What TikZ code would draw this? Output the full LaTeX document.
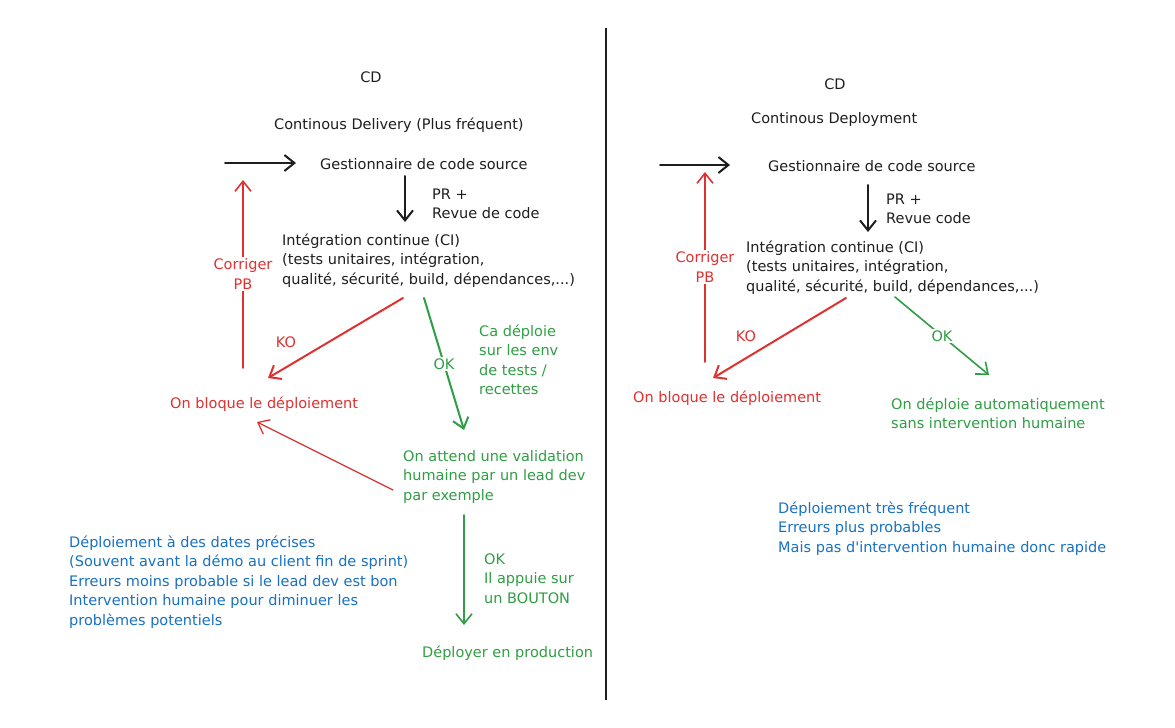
\documentclass[tikz,border=0pt]{standalone}
\usepackage{fontspec}
\setmainfont{DejaVu Sans}[Ligatures=TeXOff]
\usetikzlibrary{arrows.meta}
\definecolor{ink}{HTML}{1E1E1E}
\definecolor{koRed}{HTML}{E03131}
\definecolor{okGreen}{HTML}{2F9E44}
\definecolor{noteBlue}{HTML}{1971C2}
\begin{document}
\begin{tikzpicture}[x=1pt, y=-1pt,
  txt/.style={anchor=base west, align=left, inner sep=0pt, text=ink, font=\fontsize{14.5}{19.5}\selectfont},
  ttl/.style={txt, anchor=base},
  lbl/.style={fill=white, inner sep=2pt, align=center, font=\fontsize{14.5}{19.5}\selectfont},
  flow/.style={-{Straight Barb[length=10pt,width=16pt]}, line width=1.8pt, line cap=round},
  blk/.style={flow, draw=ink, line width=2pt},
  bad/.style={flow, draw=koRed, line width=1.6pt},
  good/.style={flow, draw=okGreen, line width=1.6pt}]
\useasboundingbox[fill=white] (0,0) rectangle (1175,728);
\draw[ink, line width=1.8pt] (606,28) -- (606,700);
% Continous Delivery
\node[ttl] (cdL) at (371,82) {CD};
\node[txt] (titleL) at (274,129) {Continous Delivery (Plus fréquent)};
\node[txt] (scmL) at (320,169) {Gestionnaire de code source};
\node[txt] (prL) at (432,218.5) {PR +\\Revue de code};
\node[txt] (ciL) at (282,284) {Intégration continue (CI)\\(tests unitaires, intégration,\\qualité, sécurité, build, dépendances,...)};
\node[txt, text=okGreen] (testsL) at (479,394.5) {Ca déploie\\sur les env\\de tests /\\recettes};
\node[txt, text=koRed] (bloqueL) at (170,408) {On bloque le déploiement};
\node[txt, text=okGreen] (attendL) at (403,500) {On attend une validation\\humaine par un lead dev\\par exemple};
\node[txt, text=okGreen] (boutonL) at (484,603) {OK\\Il appuie sur\\un BOUTON};
\node[txt, text=okGreen] (prodL) at (422,657) {Déployer en production};
\node[txt, text=noteBlue] (noteL) at (69,625) {Déploiement à des dates précises\\(Souvent avant la démo au client fin de sprint)\\Erreurs moins probable si le lead dev est bon\\Intervention humaine pour diminuer les\\problèmes potentiels};
\node[lbl, text=koRed] (koL) at (286,342) {KO};
\draw[blk] ([xshift=-95pt,yshift=6pt]scmL.base west) -- ([xshift=-24pt,yshift=6pt]scmL.base west);
\draw[blk] ([xshift=85pt,yshift=-7pt]scmL.base west) -- ([xshift=123pt,yshift=62pt]ciL.base west);
\draw[bad, line width=2pt] ([xshift=121pt,yshift=-14pt]ciL.base west) -- ([xshift=98pt,yshift=30pt]bloqueL.base west);
\draw[good, line width=2pt] ([xshift=142pt,yshift=-14pt]ciL.base west) -- node[lbl, text=okGreen] {OK} ([xshift=61pt,yshift=70pt]attendL.base west);
\draw[bad] ([xshift=73pt,yshift=40pt]bloqueL.base west) -- node[lbl, text=koRed] {Corriger\\PB} ([xshift=-77pt,yshift=-11pt]scmL.base west);
\draw[bad, line width=1.3pt] ([xshift=-10pt,yshift=10pt]attendL.base west) -- ([xshift=87pt,yshift=-14pt]bloqueL.base west);
\draw[good] ([xshift=61pt,yshift=-15pt]attendL.base west) -- ([xshift=42pt,yshift=32pt]prodL.base west);
% Continous Deployment
\node[ttl] (cdR) at (835,89) {CD};
\node[txt] (titleR) at (751,123) {Continous Deployment};
\node[txt] (scmR) at (768,171) {Gestionnaire de code source};
\node[txt] (prR) at (886,223.5) {PR +\\Revue code};
\node[txt] (ciR) at (746,291) {Intégration continue (CI)\\(tests unitaires, intégration,\\qualité, sécurité, build, dépendances,...)};
\node[txt, text=koRed] (bloqueR) at (633,402) {On bloque le déploiement};
\node[txt, text=okGreen] (autoR) at (891,428.5) {On déploie automatiquement\\sans intervention humaine};
\node[txt, text=noteBlue] (noteR) at (778,552) {Déploiement très fréquent\\Erreurs plus probables\\Mais pas d'intervention humaine donc rapide};
\node[lbl, text=koRed] (koR) at (746,336) {KO};
\draw[blk] ([xshift=-108pt,yshift=6pt]scmR.base west) -- ([xshift=-38pt,yshift=6pt]scmR.base west);
\draw[blk] ([xshift=100pt,yshift=-14pt]scmR.base west) -- ([xshift=122pt,yshift=59pt]ciR.base west);
\draw[bad, line width=2pt] ([xshift=100pt,yshift=-7pt]ciR.base west) -- ([xshift=80pt,yshift=24pt]bloqueR.base west);
\draw[good] ([xshift=149pt,yshift=-6pt]ciR.base west) -- node[lbl, text=okGreen] {OK} ([xshift=98pt,yshift=53.5pt]autoR.base west);
\draw[bad] ([xshift=72pt,yshift=40pt]bloqueR.base west) -- node[lbl, text=koRed] {Corriger\\PB} ([xshift=-63pt,yshift=-1pt]scmR.base west);
\end{tikzpicture}
\end{document}
